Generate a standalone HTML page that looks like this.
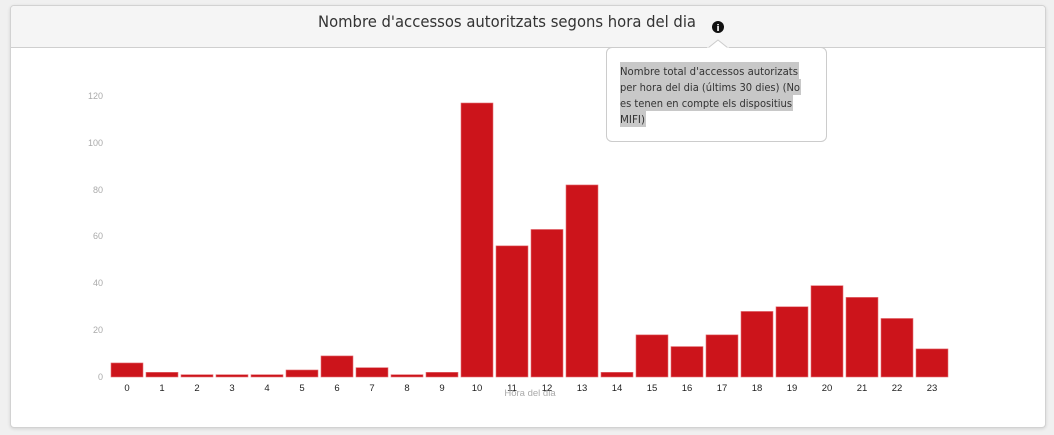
<!DOCTYPE html>
<html><head><meta charset="utf-8"><style>
body{margin:0;width:1054px;height:435px;background:#f0f0f0;overflow:hidden;position:relative;font-family:"Liberation Sans",sans-serif}
.card{position:absolute;left:10px;top:5px;width:1034px;height:421px;background:#fff;border:1px solid #d2d2d2;border-radius:4px;box-shadow:0 1px 3px rgba(0,0,0,.12);overflow:hidden}
.hdr{position:absolute;left:0;top:0;width:100%;height:41px;background:#f5f5f5;border-bottom:1px solid #cfcfcf}
.tip{position:absolute;left:606px;top:47px;width:219px;height:93px;border:1px solid #ccc;border-radius:6px;background:#fff}
</style></head><body>
<div class="card"><div class="hdr"></div></div>
<div class="tip"></div>
<svg width="1054" height="435" style="position:absolute;left:0;top:0">
<text x="318" y="27" textLength="378" lengthAdjust="spacingAndGlyphs" font-family="DejaVu Sans" font-size="16" fill="#333">Nombre d'accessos autoritzats segons hora del dia</text>
<circle cx="718" cy="27" r="6" fill="#111"/>
<text x="718" y="31" text-anchor="middle" font-family="DejaVu Sans" font-weight="bold" font-size="9" fill="#fff">i</text>
<path d="M708 48 L718 40 L728 48" fill="#fff" stroke="#ccc"/>
<rect x="707" y="47.5" width="22" height="2" fill="#fff"/>
<g fill="#c8c8c8">
<rect x="620" y="62" width="179" height="17"/><rect x="620" y="79" width="181" height="16"/><rect x="620" y="95" width="173" height="16"/><rect x="620" y="111" width="26" height="16"/>
</g>
<g font-family="DejaVu Sans" font-size="11" fill="#333" lengthAdjust="spacingAndGlyphs">
<text x="620" y="75" textLength="178" lengthAdjust="spacingAndGlyphs">Nombre total d'accessos autorizats</text>
<text x="620" y="91" textLength="180" lengthAdjust="spacingAndGlyphs">per hora del dia (últims 30 dies) (No</text>
<text x="620" y="107" textLength="172" lengthAdjust="spacingAndGlyphs">es tenen en compte els dispositius</text>
<text x="620" y="123" textLength="25" lengthAdjust="spacingAndGlyphs">MIFI)</text>
</g>
<g font-family="Liberation Sans" font-size="9" fill="#aaa" text-anchor="end">
<text x="103" y="380">0</text><text x="103" y="333">20</text><text x="103" y="286">40</text><text x="103" y="239">60</text><text x="103" y="193">80</text><text x="103" y="146">100</text><text x="103" y="99">120</text>
</g>
<g id="bars" fill="#cc141b" stroke="#e57378" stroke-width="0.6"></g>
<g id="lbl" font-family="Liberation Sans" font-size="9.5" fill="#222" text-anchor="middle"></g>
<text x="530" y="396" font-family="Liberation Sans" font-size="9.5" fill="#aaa" text-anchor="middle">Hora del dia</text>
</svg>
<script>
var v=[6,2,1,1,1,3,9,4,1,2,117,56,63,82,2,18,13,18,28,30,39,34,25,12];
var b="",l="";
v.forEach(function(d,i){var c=127+35*i,h=d*2.342;b+='<rect x="'+(c-16)+'" y="'+(377-h)+'" width="32" height="'+h+'"/>';l+='<text x="'+c+'" y="391">'+i+'</text>';});
document.getElementById("bars").innerHTML=b;document.getElementById("lbl").innerHTML=l;
</script>
</body></html>
